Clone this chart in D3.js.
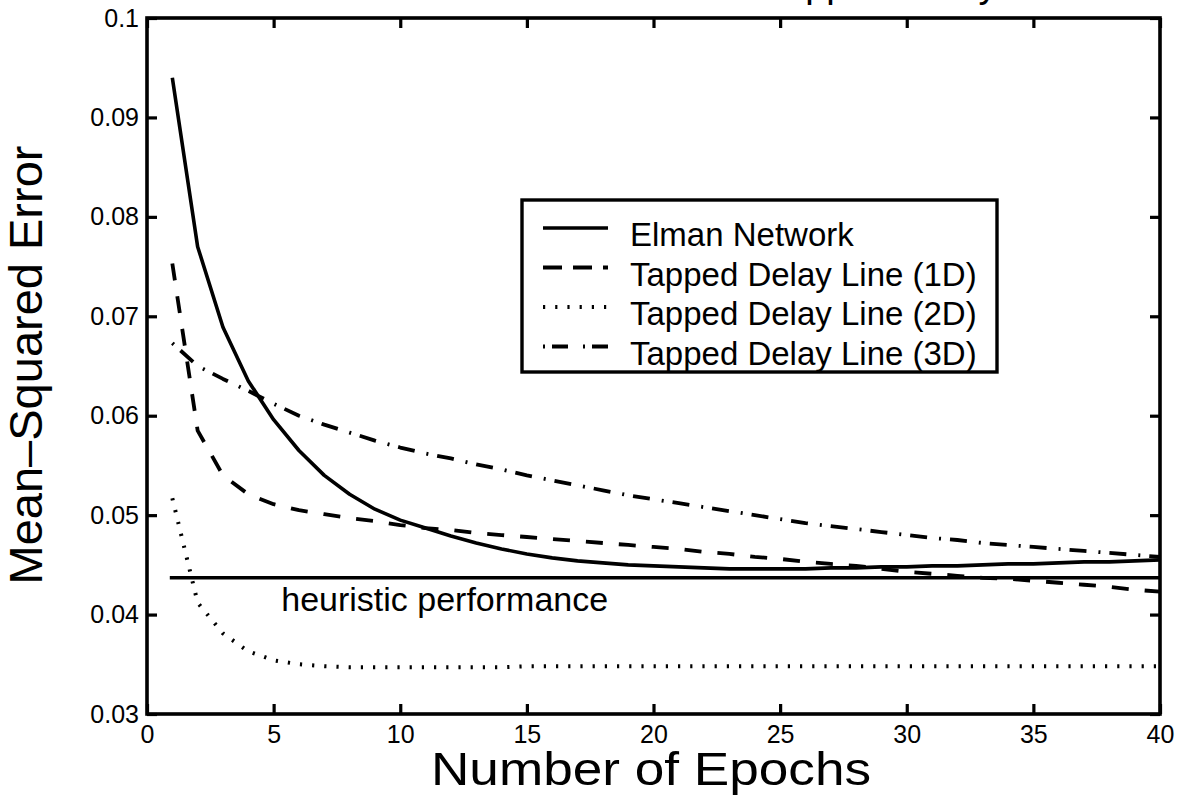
<!DOCTYPE html>
<html>
<head>
<meta charset="utf-8">
<script src="https://cdn.jsdelivr.net/npm/d3@7"></script>
<style>
  html, body { margin: 0; padding: 0; background: #fff; }
  svg { display: block; font-family: "Liberation Sans", Arial, Helvetica, sans-serif; }
</style>
</head>
<body>
<svg id="chart" width="1177" height="800"></svg>
<script>
// Training epochs 1..40
const epochs = d3.range(1, 41);

// Mean-squared error per epoch for each model
const elman = [0.0940, 0.0770, 0.0689, 0.0635, 0.0596, 0.0565, 0.0540, 0.0521, 0.0506, 0.0495,
               0.0487, 0.0479, 0.0472, 0.0466, 0.0461, 0.0457, 0.0454, 0.0452, 0.0450, 0.0449,
               0.0448, 0.0447, 0.0446, 0.0446, 0.0446, 0.0446, 0.0447, 0.0447, 0.0448, 0.0448,
               0.0449, 0.0449, 0.0450, 0.0451, 0.0451, 0.0452, 0.0453, 0.0453, 0.0454, 0.0455];
const tdl1 = [0.0753, 0.0585, 0.0540, 0.0521, 0.0511, 0.0505, 0.0501, 0.0497, 0.0494, 0.0490,
              0.0487, 0.0485, 0.0482, 0.0480, 0.0478, 0.0476, 0.0474, 0.0472, 0.0470, 0.0468,
              0.0466, 0.0463, 0.0461, 0.0458, 0.0456, 0.0453, 0.0451, 0.0449, 0.0446, 0.0443,
              0.0441, 0.0439, 0.0437, 0.0436, 0.0434, 0.0432, 0.0430, 0.0428, 0.0425, 0.0423];
const tdl2 = [0.0517, 0.0412, 0.0381, 0.0363, 0.0354, 0.0350, 0.0348, 0.0347, 0.0347, 0.0347,
              0.0347, 0.0347, 0.0347, 0.0347, 0.0348, 0.0348, 0.0348, 0.0348, 0.0348, 0.0348,
              0.0348, 0.0348, 0.0348, 0.0348, 0.0348, 0.0348, 0.0348, 0.0348, 0.0348, 0.0348,
              0.0348, 0.0348, 0.0348, 0.0348, 0.0348, 0.0348, 0.0348, 0.0348, 0.0348, 0.0348];
const tdl3 = [0.0673, 0.0650, 0.0637, 0.0625, 0.0612, 0.0600, 0.0591, 0.0583, 0.0575, 0.0568,
              0.0562, 0.0557, 0.0551, 0.0546, 0.0540, 0.0535, 0.0530, 0.0525, 0.0520, 0.0516,
              0.0512, 0.0508, 0.0504, 0.0500, 0.0496, 0.0492, 0.0489, 0.0486, 0.0483, 0.0480,
              0.0477, 0.0475, 0.0472, 0.0470, 0.0468, 0.0466, 0.0464, 0.0462, 0.0460, 0.0458];

// Reference level of the heuristic controller
const heuristicMSE = 0.0437;
const heuristicSpan = [0.9, 40];
const heuristicLabel = "heuristic performance";

const seriesNames = ["Elman Network", "Tapped Delay Line (1D)", "Tapped Delay Line (2D)", "Tapped Delay Line (3D)"];
const xTicks = [0, 5, 10, 15, 20, 25, 30, 35, 40];
const yTicks = [0.03, 0.04, 0.05, 0.06, 0.07, 0.08, 0.09, 0.1];
const xTitle = "Number of Epochs";
const yTitle = "Mean\u2013Squared Error";
const chartTitle = "Tapped Delay Line";

const svg = d3.select("#chart");
const plotLeft = 147, plotRight = 1160, plotTop = 18, plotBottom = 714;

const x = d3.scaleLinear().domain([0, 40]).range([plotLeft, plotRight]);
const y = d3.scaleLinear().domain([0.03, 0.1]).range([plotBottom, plotTop]);

// Title, mostly above the visible page
svg.append("text")
  .attr("x", 765).attr("y", -3)
  .attr("font-size", 38)
  .text(chartTitle);

// Line styles
const styles = [
  { width: 3.6, dash: null },
  { width: 3.8, dash: "17,16" },
  { width: 4.0, dash: "2.2,10" },
  { width: 3.8, dash: "2,9,17,12" }
];
const legendDash = [null, "19,11", "2.2,10", "2,7,16,15"];
const allSeries = [elman, tdl1, tdl2, tdl3];

const line = d3.line().x((d, i) => x(epochs[i])).y(d => y(d));

const plot = svg.append("g");
allSeries.forEach((vals, k) => {
  plot.append("path")
    .datum(vals)
    .attr("d", line)
    .attr("fill", "none")
    .attr("stroke", "#000")
    .attr("stroke-width", styles[k].width)
    .attr("stroke-dasharray", styles[k].dash)
    .attr("stroke-linejoin", "round");
});

// Heuristic reference line and its label
plot.append("line")
  .attr("x1", x(heuristicSpan[0])).attr("x2", x(heuristicSpan[1]))
  .attr("y1", y(heuristicMSE)).attr("y2", y(heuristicMSE))
  .attr("stroke", "#000").attr("stroke-width", 3.4);
plot.append("text")
  .attr("x", x(5.3)).attr("y", y(heuristicMSE) + 33)
  .attr("font-size", 34)
  .text(heuristicLabel);

// Axes with inward ticks on all four sides
const tickLen = 10;
function styleAxis(g) {
  g.select(".domain").remove();
  g.selectAll(".tick line").attr("stroke", "#000").attr("stroke-width", 3.2);
  g.selectAll(".tick text").attr("fill", "#000").attr("font-size", 25)
    .attr("font-family", "Liberation Sans, Arial, sans-serif");
}
svg.append("g").attr("transform", `translate(0,${plotBottom})`)
  .call(d3.axisBottom(x).tickValues(xTicks).tickSizeInner(-tickLen).tickSizeOuter(0).tickPadding(11).tickFormat(d3.format("d")))
  .call(styleAxis);
svg.append("g").attr("transform", `translate(0,${plotTop})`)
  .call(d3.axisTop(x).tickValues(xTicks).tickSizeInner(-tickLen).tickSizeOuter(0).tickFormat(""))
  .call(styleAxis);
svg.append("g").attr("transform", `translate(${plotLeft},0)`)
  .call(d3.axisLeft(y).tickValues(yTicks).tickSizeInner(-tickLen).tickSizeOuter(0).tickPadding(8).tickFormat(d => String(+d.toFixed(2))))
  .call(styleAxis);
svg.append("g").attr("transform", `translate(${plotRight},0)`)
  .call(d3.axisRight(y).tickValues(yTicks).tickSizeInner(-tickLen).tickSizeOuter(0).tickFormat(""))
  .call(styleAxis);

// Plot frame
svg.append("rect")
  .attr("x", plotLeft).attr("y", plotTop)
  .attr("width", plotRight - plotLeft).attr("height", plotBottom - plotTop)
  .attr("fill", "none").attr("stroke", "#000").attr("stroke-width", 3.6);

// Axis titles
svg.append("text")
  .attr("x", 651).attr("y", 785)
  .attr("text-anchor", "middle").attr("font-size", 46)
  .attr("textLength", 440).attr("lengthAdjust", "spacingAndGlyphs")
  .text(xTitle);
svg.append("text")
  .attr("transform", "translate(42,365) rotate(-90)")
  .attr("text-anchor", "middle").attr("font-size", 47)
  .text(yTitle);

// Legend
const lg = svg.append("g");
lg.append("rect")
  .attr("x", 522).attr("y", 200).attr("width", 475).attr("height", 172)
  .attr("fill", "#fff").attr("stroke", "#000").attr("stroke-width", 3.4);
seriesNames.forEach((name, k) => {
  const yy = 228 + k * 39.5;
  lg.append("line")
    .attr("x1", 543).attr("x2", 608).attr("y1", yy).attr("y2", yy)
    .attr("stroke", "#000").attr("stroke-width", styles[k].width)
    .attr("stroke-dasharray", legendDash[k]);
  lg.append("text")
    .attr("x", 630).attr("y", yy + 18)
    .attr("font-size", 33)
    .text(name);
});
</script>
</body>
</html>
